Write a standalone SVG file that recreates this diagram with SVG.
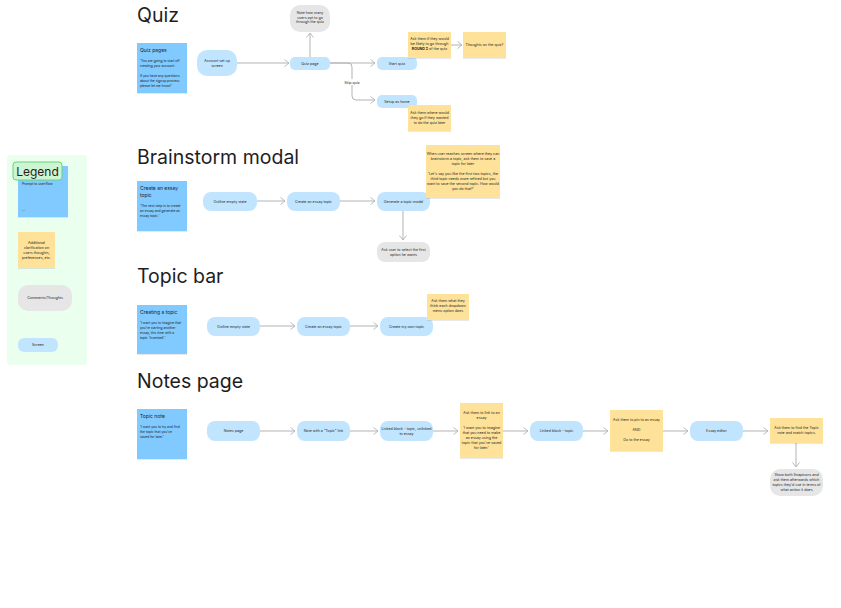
<svg xmlns="http://www.w3.org/2000/svg" width="841" height="608" viewBox="0 0 841 608">
<defs>
<marker id="ah" markerWidth="6" markerHeight="8" refX="5" refY="4" orient="auto" markerUnits="userSpaceOnUse">
<path d="M0.5,0.5 L5,4 L0.5,7.5" fill="none" stroke="#b3b3b3" stroke-width="0.9"/>
</marker>
<filter id="sh" x="-10%" y="-10%" width="120%" height="130%">
<feDropShadow dx="0" dy="0.6" stdDeviation="0.5" flood-color="#000" flood-opacity="0.15"/>
</filter>
</defs>
<style>
text{font-family:Inter,"Liberation Sans",Arial,sans-serif;fill:#1e1e1e}
.h{font-size:19.5px;fill:#1e1e1e}
.t{font-size:3.6px;text-anchor:middle}
.s{font-size:3.3px}
.st{font-size:5px}
.blue{fill:#80caff;filter:url(#sh)}
.yel{fill:#ffe299;filter:url(#sh)}
.node{fill:#c2e5ff}
.gray{fill:#e6e6e6}
.c{fill:none;stroke:#b3b3b3;stroke-width:1;marker-end:url(#ah)}
</style>
<rect width="841" height="608" fill="#ffffff"/>

<!-- Titles -->
<text class="h" x="137" y="22">Quiz</text>
<text class="h" x="137" y="164">Brainstorm modal</text>
<text class="h" x="137" y="283">Topic bar</text>
<text class="h" x="137" y="388">Notes page</text>

<!-- Legend -->
<g id="legend">
<rect x="7" y="155" width="80" height="210" rx="2" fill="#ebffee"/>
<rect x="18" y="166" width="50" height="51" class="blue"/>
<text class="s" x="22" y="185">Prompt to user/flow</text>
<text class="s" x="22" y="211">...</text>
<rect x="13" y="162" width="49" height="18" rx="3" fill="#cdf4d3" stroke="#66d575" stroke-width="1"/>
<text x="37.5" y="175.5" font-size="12" text-anchor="middle">Legend</text>
<rect x="18" y="232" width="37" height="36" class="yel"/>
<text class="t" font-size="3.3"><tspan x="36.5" y="244">Additional</tspan><tspan x="36.5" y="249">clarification on</tspan><tspan x="36.5" y="254">users thoughts,</tspan><tspan x="36.5" y="259">preferences, etc.</tspan></text>
<rect x="18" y="285" width="54" height="26" rx="10" class="gray"/>
<text class="t" x="45" y="299">Comments/Thoughts</text>
<rect x="18" y="338" width="40" height="14" rx="6" class="node"/>
<text class="t" x="38" y="346">Screen</text>
</g>

<!-- Connectors -->
<g id="connectors">
<path class="c" d="M237,63 H289"/>
<path class="c" d="M310,57 V33"/>
<path class="c" d="M330,63 H375"/>
<path class="c" d="M330,63 H348 Q352,63 352,67 V96 Q352,100 356,100 H375"/>
<path class="c" d="M451,45 H462"/>
<path class="c" d="M257,201 H285"/>
<path class="c" d="M340,201 H375"/>
<path class="c" d="M403,211 V240"/>
<path class="c" d="M260,326 H295"/>
<path class="c" d="M350,326 H378"/>
<path class="c" d="M260,431 H295"/>
<path class="c" d="M350,431 H378"/>
<path class="c" d="M433,431 H458"/>
<path class="c" d="M503,431 H528"/>
<path class="c" d="M583,431 H608"/>
<path class="c" d="M663,431 H688"/>
<path class="c" d="M743,431 H768"/>
<path class="c" d="M796,443 V467"/>
<rect x="343" y="79" width="18" height="6" fill="#ffffff"/>
<text class="t" x="352" y="83.5">Skip quiz</text>
</g>

<!-- Quiz -->
<g id="quiz-pages">
<rect x="137" y="43" width="50" height="50" class="blue"/>
<text class="st" x="140" y="52">Quiz pages</text>
<text class="s"><tspan x="140" y="62">'You are going to start off</tspan><tspan x="140" y="67">creating your account.</tspan><tspan x="140" y="77">If you have any questions</tspan><tspan x="140" y="82">about the signup process</tspan><tspan x="140" y="86.5">please let me know!'</tspan></text>
</g>
<g id="account-setup">
<rect x="197" y="50" width="40" height="26" rx="10" class="node"/>
<text class="t"><tspan x="217" y="62">Account set up</tspan><tspan x="217" y="67">screen</tspan></text>
</g>
<g id="quiz-page">
<rect x="290" y="57" width="40" height="13" rx="5" class="node"/>
<text class="t" x="310" y="64.5">Quiz page</text>
</g>
<g id="note-users">
<rect x="290" y="5" width="40" height="27" rx="10" class="gray"/>
<text class="t"><tspan x="310" y="14">Note how many</tspan><tspan x="310" y="18.5">users opt to go</tspan><tspan x="310" y="23">through the quiz</tspan></text>
</g>
<g id="start-quiz">
<rect x="377" y="57" width="40" height="13" rx="5" class="node"/>
<text class="t" x="397" y="64.5">Start quiz</text>
</g>
<g id="setup-home">
<rect x="377" y="95" width="40" height="13" rx="5" class="node"/>
<text class="t" x="397" y="102.5">Setup as home</text>
</g>
<g id="ask-round2">
<rect x="408" y="32" width="43" height="26" class="yel"/>
<text class="t"><tspan x="429.5" y="40">Ask them if they would</tspan><tspan x="429.5" y="45">be likely to go through</tspan><tspan x="429.5" y="50"><tspan font-weight="bold">ROUND 2</tspan> of the quiz</tspan></text>
</g>
<g id="thoughts-quiz">
<rect x="463" y="32" width="43" height="26" class="yel"/>
<text class="t" x="484.5" y="46">Thoughts on the quiz?</text>
</g>
<g id="ask-where">
<rect x="408" y="105" width="43" height="26" class="yel"/>
<text class="t"><tspan x="429.5" y="114">Ask them where would</tspan><tspan x="429.5" y="119">they go if they wanted</tspan><tspan x="429.5" y="124">to do the quiz later</tspan></text>
</g>

<!-- Brainstorm -->
<g id="create-essay-sticky">
<rect x="137" y="181" width="50" height="50" class="blue"/>
<text class="st"><tspan x="140" y="190">Create an essay</tspan><tspan x="140" y="197">topic</tspan></text>
<text class="s"><tspan x="140" y="207">'The next step is to create</tspan><tspan x="140" y="212">an essay and generate an</tspan><tspan x="140" y="217">essay topic.'</tspan></text>
</g>
<g id="b-outline">
<rect x="203" y="192" width="54" height="19" rx="8" class="node"/>
<text class="t" x="230" y="203">Outline empty state</text>
</g>
<g id="b-create">
<rect x="287" y="192" width="53" height="19" rx="8" class="node"/>
<text class="t" x="313.5" y="203">Create an essay topic</text>
</g>
<g id="b-generate">
<rect x="377" y="192" width="53" height="19" rx="8" class="node"/>
<text class="t" x="403.5" y="203">Generate a topic modal</text>
</g>
<g id="b-sticky">
<rect x="426" y="145" width="74" height="53" class="yel"/>
<text class="t" font-size="3.3"><tspan x="463" y="155">When user reaches screen where they can</tspan><tspan x="463" y="160">brainstorm a topic, ask them to save a</tspan><tspan x="463" y="165">topic for later</tspan><tspan x="463" y="175">'Let's say you like the first two topics, the</tspan><tspan x="463" y="180">third topic needs more refined but you</tspan><tspan x="463" y="185">want to save the second topic. How would</tspan><tspan x="463" y="190">you do that?'</tspan></text>
</g>
<g id="b-ask">
<rect x="377" y="242" width="53" height="20" rx="8" class="gray"/>
<text class="t"><tspan x="403.5" y="251">Ask user to select the first</tspan><tspan x="403.5" y="256">option he wants</tspan></text>
</g>

<!-- Topic bar -->
<g id="creating-topic-sticky">
<rect x="137" y="305" width="50" height="49" class="blue"/>
<text class="st" x="140" y="314">Creating a topic</text>
<text class="s"><tspan x="140" y="324">'I want you to imagine that</tspan><tspan x="140" y="329">you're starting another</tspan><tspan x="140" y="334">essay, this time with a</tspan><tspan x="140" y="339">topic 'Invented'.'</tspan></text>
</g>
<g id="t-outline">
<rect x="207" y="317" width="53" height="19" rx="8" class="node"/>
<text class="t" x="233.5" y="328">Outline empty state</text>
</g>
<g id="t-create">
<rect x="297" y="317" width="53" height="19" rx="8" class="node"/>
<text class="t" x="323.5" y="328">Create an essay topic</text>
</g>
<g id="t-own">
<rect x="380" y="317" width="53" height="19" rx="8" class="node"/>
<text class="t" x="406.5" y="328">Create my own topic</text>
</g>
<g id="t-sticky">
<rect x="427" y="294" width="42" height="26" class="yel"/>
<text class="t" font-size="3.3"><tspan x="448" y="302">Ask them what they</tspan><tspan x="448" y="307">think each dropdown</tspan><tspan x="448" y="312">menu option does</tspan></text>
</g>

<!-- Notes page -->
<g id="topic-note-sticky">
<rect x="137" y="409" width="50" height="50" class="blue"/>
<text class="st" x="140" y="418">Topic note</text>
<text class="s"><tspan x="140" y="428">'I want you to try and find</tspan><tspan x="140" y="433">the topic that you've</tspan><tspan x="140" y="438">saved for later.'</tspan></text>
</g>
<g id="n-notes">
<rect x="207" y="421" width="53" height="20" rx="8" class="node"/>
<text class="t" x="233.5" y="432">Notes page</text>
</g>
<g id="n-note-link">
<rect x="297" y="421" width="53" height="20" rx="8" class="node"/>
<text class="t" x="323.5" y="432">Note with a "Topic" link</text>
</g>
<g id="n-linked-unlinked">
<rect x="380" y="421" width="53" height="20" rx="8" class="node"/>
<text class="t"><tspan x="406.5" y="429.5">Linked block - topic, unlinked</tspan><tspan x="406.5" y="434.5">to essay</tspan></text>
</g>
<g id="n-ask-link">
<rect x="460" y="403" width="43" height="55" class="yel"/>
<text class="t" font-size="3.3"><tspan x="481.5" y="414">Ask them to link to an</tspan><tspan x="481.5" y="419">essay</tspan><tspan x="481.5" y="429">'I want you to imagine</tspan><tspan x="481.5" y="434">that you need to make</tspan><tspan x="481.5" y="439">an essay using the</tspan><tspan x="481.5" y="444">topic that you've saved</tspan><tspan x="481.5" y="449">for later.'</tspan></text>
</g>
<g id="n-linked">
<rect x="530" y="421" width="53" height="20" rx="8" class="node"/>
<text class="t" x="556.5" y="432">Linked block - topic</text>
</g>
<g id="n-ask-pin">
<rect x="610" y="410" width="53" height="41" class="yel"/>
<text class="t" font-size="3.3"><tspan x="636.5" y="421">Ask them to pin to an essay</tspan><tspan x="636.5" y="431">AND</tspan><tspan x="636.5" y="441">Go to the essay</tspan></text>
</g>
<g id="n-editor">
<rect x="690" y="421" width="53" height="20" rx="8" class="node"/>
<text class="t" x="716.5" y="432">Essay editor</text>
</g>
<g id="n-ask-find">
<rect x="770" y="418" width="53" height="25" class="yel"/>
<text class="t" font-size="3.3"><tspan x="796.5" y="429">Ask them to find the Topic</tspan><tspan x="796.5" y="434">note and match topics.</tspan></text>
</g>
<g id="n-show">
<rect x="770" y="469" width="53" height="27" rx="10" class="gray"/>
<text class="t" font-size="3.3"><tspan x="796.5" y="476">Show both Snapicons and</tspan><tspan x="796.5" y="481">ask them afterwards which</tspan><tspan x="796.5" y="486">topics they'd use in terms of</tspan><tspan x="796.5" y="491">what action it does</tspan></text>
</g>
</svg>
